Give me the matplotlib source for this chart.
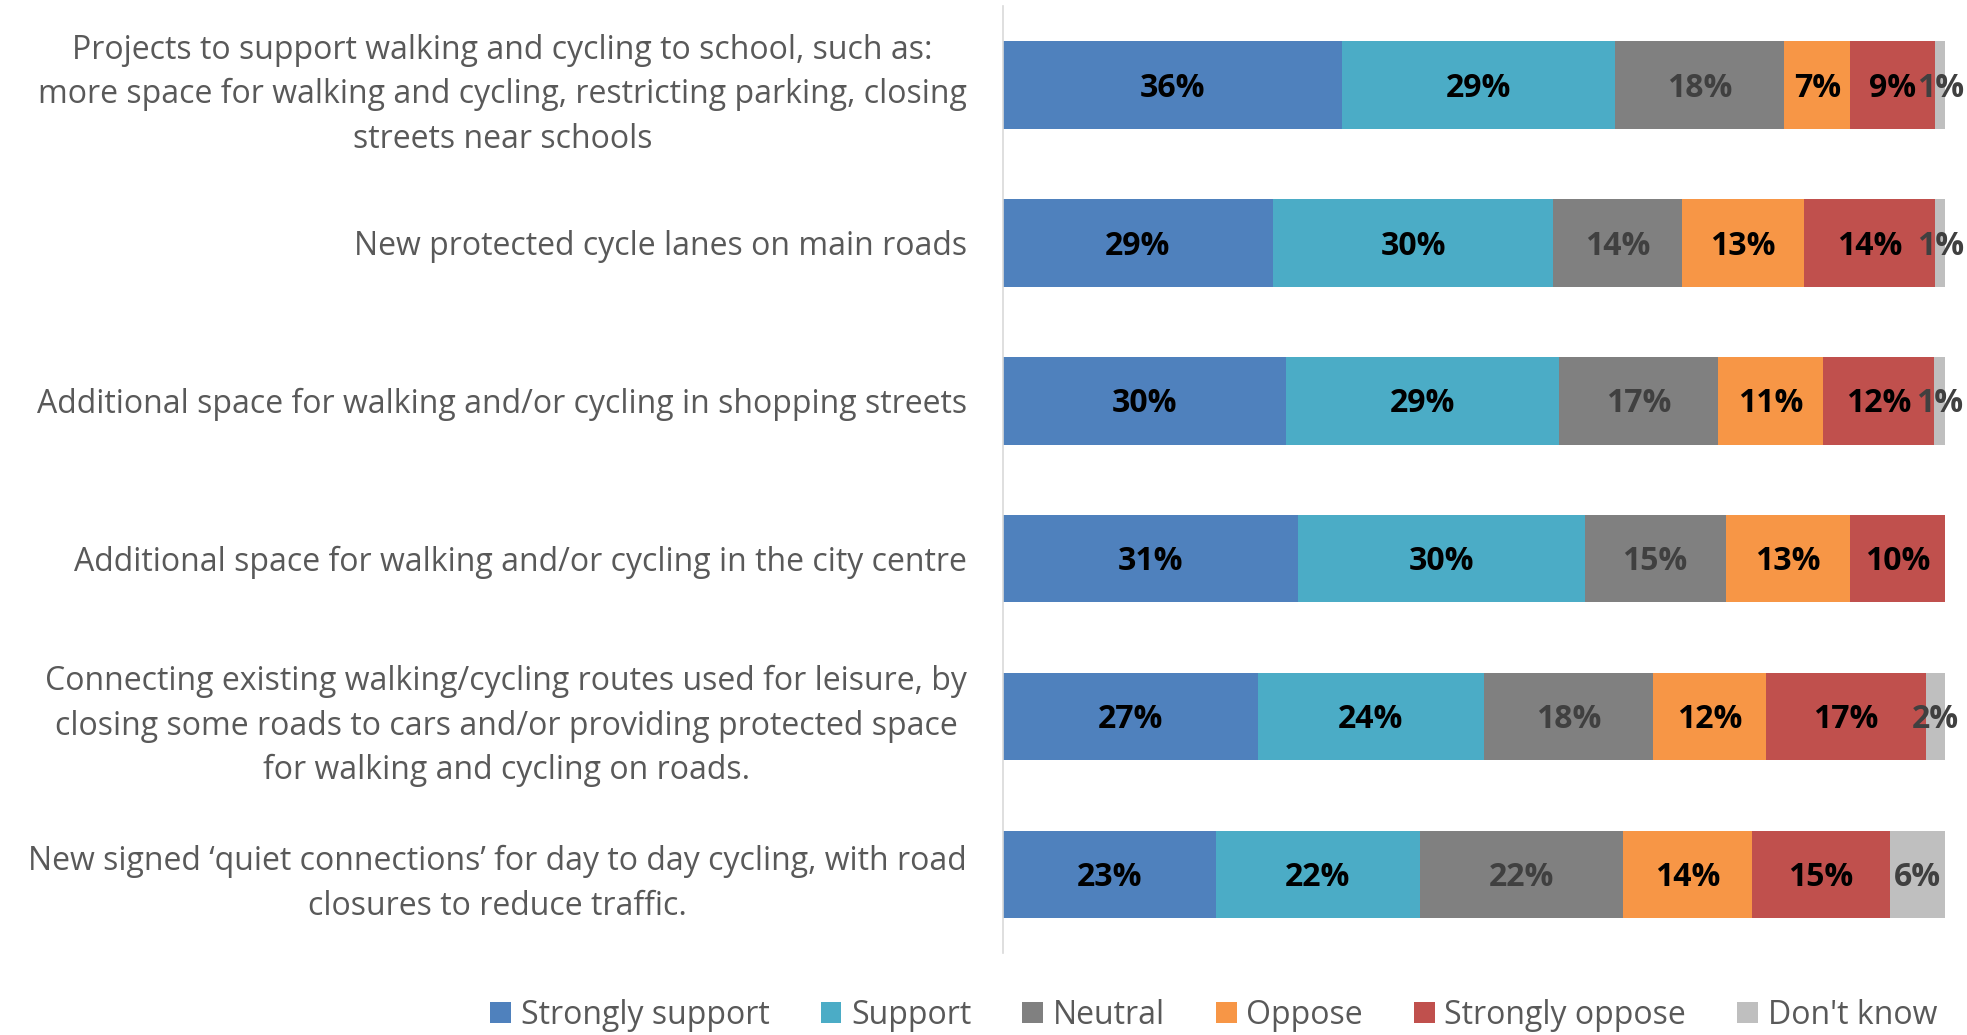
import numpy as np
import matplotlib.pyplot as plt

# Categories (top to bottom)
categories = [
    "Projects to support walking and cycling to school, such as:\nmore space for walking and cycling, restricting parking, closing\nstreets near schools",
    "New protected cycle lanes on main roads",
    "Additional space for walking and/or cycling in shopping streets",
    "Additional space for walking and/or cycling in the city centre",
    "Connecting existing walking/cycling routes used for leisure, by\nclosing some roads to cars and/or providing protected space\nfor walking and cycling on roads.",
    "New signed \u2018quiet connections\u2019 for day to day cycling, with road\nclosures to reduce traffic.",
]

# Shares in percent, one list per response
strongly_support = [36.0, 28.6, 30.0, 31.3, 27.0, 22.6]
support = [28.9, 29.8, 29.0, 30.4, 24.0, 21.6]
neutral = [18.0, 13.7, 16.9, 15.0, 18.0, 21.6]
oppose = [7.0, 12.9, 11.1, 13.2, 12.0, 13.7]
strongly_oppose = [9.0, 13.9, 11.8, 10.1, 16.9, 14.6]
dont_know = [1.1, 1.1, 1.2, 0.0, 2.1, 5.9]

series = ["Strongly support", "Support", "Neutral", "Oppose", "Strongly oppose", "Don't know"]
colors = ["#4F81BD", "#4BACC6", "#808080", "#F79646", "#C0504D", "#BFBFBF"]
label_colors = ["black", "black", "#404040", "black", "black", "#404040"]

plt.rcParams['font.family'] = ['Open Sans', 'DejaVu Sans']

fig = plt.figure(figsize=(19.67, 10.35), dpi=100)
ax = fig.add_axes([0.510, 0.079, 0.479, 0.915])

data = [strongly_support, support, neutral, oppose, strongly_oppose, dont_know]
y = np.arange(len(categories))
left = np.zeros(len(categories))
for vals, name, col, lcol in zip(data, series, colors, label_colors):
    vals = np.array(vals)
    ax.barh(y, vals, left=left, height=0.555, color=col, label=name)
    for yi, v, l in zip(y, vals, left):
        if v > 0:
            ax.text(l + v / 2, yi + 0.02, f"{v:.0f}%", ha='center', va='center',
                    fontsize=23, fontweight='bold', color=lcol)
    left += vals

ax.set_xlim(0, 100)
ax.set_ylim(len(categories) - 0.5, -0.5)
ax.set_yticks(y)
ax.set_yticklabels(categories, fontsize=23, color="#595959", linespacing=1.45,
                   multialignment='center')
ax.tick_params(axis='y', length=0, pad=26)
ax.set_xticks([])
for s in ['top', 'right', 'bottom']:
    ax.spines[s].set_visible(False)
ax.spines['left'].set_color('#D9D9D9')
ax.spines['left'].set_linewidth(1.2)

fig.legend(loc='center', bbox_to_anchor=(0.617, 0.019), ncol=6, frameon=False,
           fontsize=23, labelcolor="#595959", handlelength=0.65, handleheight=0.65,
           handletextpad=0.3, columnspacing=1.6)

fig.savefig("out.png", dpi=100)
